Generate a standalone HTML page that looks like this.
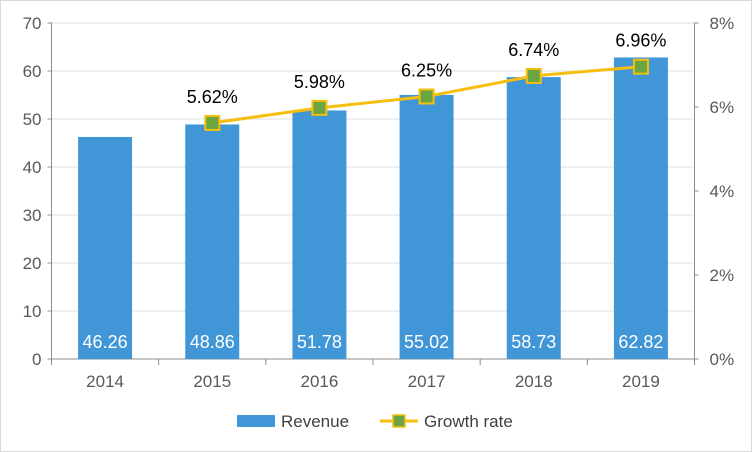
<!DOCTYPE html>
<html><head><meta charset="utf-8"><style>
html,body{margin:0;padding:0;background:#fff;}
svg{display:block;font-family:"Liberation Sans",Arial,sans-serif;}
</style></head><body>
<svg id="chart" width="752" height="452">
<rect x="0.5" y="0.5" width="751" height="451" fill="#fff" stroke="#d9d9d9"/>
<g id="grid"></g><g id="axes"></g><g id="bars"></g><g id="line"></g><g id="labels"></g>
<g>
<rect x="237" y="415" width="38" height="12" fill="#4196d8"/>
<text x="281" y="427" font-size="17" fill="#404040">Revenue</text>
<line x1="380" y1="421" x2="418" y2="421" stroke="#f6bf10" stroke-width="3"/>
<rect x="393" y="415" width="12" height="12" fill="#6aa542" stroke="#f6bf10" stroke-width="1.5"/>
<text x="424" y="427" font-size="17" fill="#404040">Growth rate</text>
</g>
</svg>
<script>
const categories=["2014","2015","2016","2017","2018","2019"];
const revenue=[46.26,48.86,51.78,55.02,58.73,62.82];
const growth=[null,5.62,5.98,6.25,6.74,6.96];
const leftTicks=[0,10,20,30,40,50,60,70];
const rightTicks=[0,2,4,6,8];
const NS="http://www.w3.org/2000/svg";
const X0=51.5,X1=694.5,Y0=359,Y1=23;
const band=(X1-X0)/categories.length;
const xc=i=>X0+band*(i+0.5);
const yL=v=>Y0-(v/70)*(Y0-Y1);
const yR=v=>Y0-(v/8)*(Y0-Y1);
function mk(tag,attrs,parent,text){const e=document.createElementNS(NS,tag);for(const k in attrs)e.setAttribute(k,attrs[k]);if(text!=null)e.textContent=text;document.getElementById(parent).appendChild(e);return e;}
leftTicks.forEach(t=>{
 if(t===0)return;
 const y=yL(t);
 let g=mk("line",{x1:X0,y1:y,x2:X1,y2:y,stroke:"#d0d0d0","stroke-dasharray":"2,1"},"grid");
 
 
});
let e=mk("line",{x1:X0,y1:Y1,x2:X0,y2:Y0,stroke:"#8c8c8c"},"axes");


e=mk("line",{x1:X1,y1:Y1,x2:X1,y2:Y0,stroke:"#8c8c8c"},"axes");


e=mk("line",{x1:X0,y1:Y0,x2:X1,y2:Y0,stroke:"#8c8c8c"},"axes");


leftTicks.forEach(t=>{
 const y=yL(t);
 let l=mk("line",{x1:X0-4,y1:y,x2:X0,y2:y,stroke:"#8c8c8c"},"axes");
 
 
 let tx=mk("text",{x:X0-10,y:y+6,"font-size":17,fill:"#595959","text-anchor":"end"},"axes",t);
 
 
});
rightTicks.forEach(t=>{
 const y=yR(t);
 let l=mk("line",{x1:X1,y1:y,x2:X1+4,y2:y,stroke:"#8c8c8c"},"axes");
 
 
 let tx=mk("text",{x:X1+15,y:y+6,"font-size":17,fill:"#595959"},"axes",t+"%");
 
 
});
for(let i=0;i<=categories.length;i++){
 let l=mk("line",{x1:X0+band*i,y1:Y0,x2:X0+band*i,y2:Y0+6,stroke:"#8c8c8c"},"axes");
 
 
}
categories.forEach((c,i)=>{
 let tx=mk("text",{x:xc(i),y:Y0+28,"font-size":17,fill:"#595959","text-anchor":"middle"},"axes",c);
 
 
});
const bw=54;
revenue.forEach((v,i)=>{
 let r=mk("rect",{x:xc(i)-bw/2,y:yL(v),width:bw,height:Y0-yL(v),fill:"#4196d8"},"bars");
 
 
 let t=mk("text",{x:xc(i),y:Y0-11,"font-size":18,fill:"#fff","text-anchor":"middle"},"labels",v.toFixed(2));
 
 
});
const pts=[];growth.forEach((g,i)=>{if(g!=null)pts.push([xc(i),yR(g),g]);});
let pl=mk("polyline",{points:pts.map(p=>p[0]+","+p[1]).join(" "),fill:"none",stroke:"#f6bf10","stroke-width":3},"line");


pts.forEach(p=>{
 let m=mk("rect",{x:p[0]-7,y:p[1]-7,width:14,height:14,fill:"#6aa542",stroke:"#f6bf10","stroke-width":2},"line");
 
 
 let t=mk("text",{x:p[0],y:p[1]-20,"font-size":18,fill:"#000","text-anchor":"middle"},"labels",p[2].toFixed(2)+"%");
 
 
});
</script>
</body></html>
